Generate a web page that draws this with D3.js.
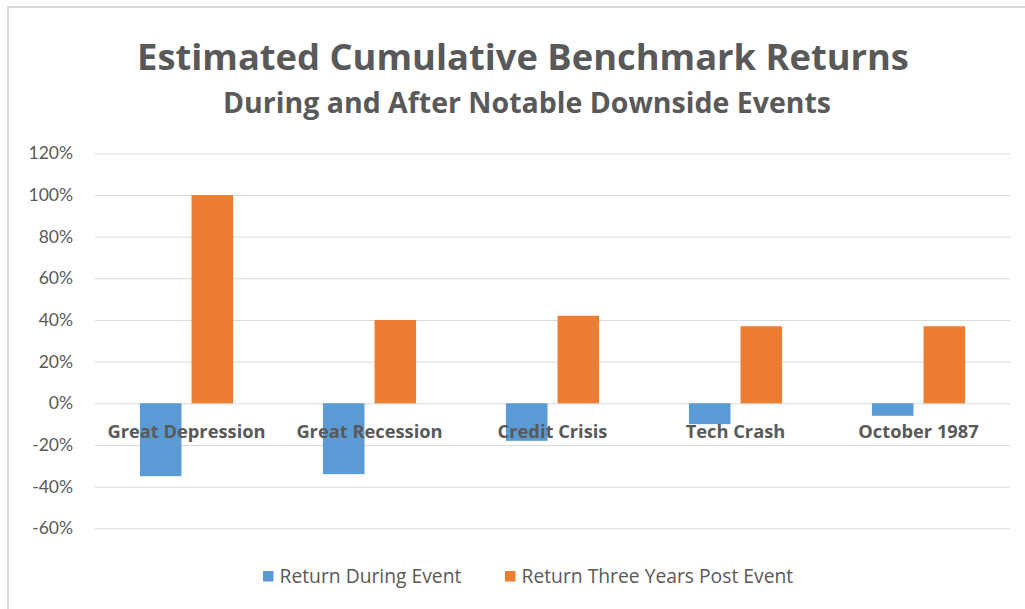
<!DOCTYPE html>
<html>
<head>
<meta charset="utf-8">
<script src="https://cdn.jsdelivr.net/npm/d3@7"></script>
<style>
  html, body { margin: 0; padding: 0; background: #fff; overflow: hidden; }
  svg { display: block; }
  .grid-line { stroke: #d9d9d9; stroke-width: 1; }
  .border-line { stroke: #d9d9d9; stroke-width: 2; }
  .label-axis-tick { fill: #595959; font-family: Lato, 'Open Sans', sans-serif; font-size: 17.5px; }
  .label-category { fill: #595959; font-family: 'Open Sans', sans-serif; font-size: 18.3px; font-weight: bold; }
  .legend-text { fill: #595959; font-family: 'Open Sans', sans-serif; font-size: 19.3px; }
  .title { fill: #595959; font-family: 'Open Sans', sans-serif; font-weight: bold; }
</style>
</head>
<body>
<div id="chart"></div>
<script>
// data
const categories = ['Great Depression', 'Great Recession', 'Credit Crisis', 'Tech Crash', 'October 1987'];
const returnDuring = [-35, -34, -18, -10, -6];
const returnPost = [100, 40, 42, 37, 37];
const seriesNames = ['Return During Event', 'Return Three Years Post Event'];
const yTicks = [-60, -40, -20, 0, 20, 40, 60, 80, 100, 120];

const colors = ['#5B9BD5', '#ED7D31'];

const width = 1025;
const height = 609;
const marginLeft = 95;
const marginRight = 15;
const marginTop = 153.3;
const marginBottom = 80.7;
const innerWidth = width - marginLeft - marginRight;
const innerHeight = height - marginTop - marginBottom;

const svg = d3
  .select('#chart')
  .append('svg')
  .attr('width', width)
  .attr('height', height);

// outer chart border (only top and left show in the shot)
svg.append('line')
  .attr('class', 'border-line')
  .attr('x1', 7).attr('y1', 7)
  .attr('x2', width).attr('y2', 7);
svg.append('line')
  .attr('class', 'border-line')
  .attr('x1', 8).attr('y1', 7)
  .attr('x2', 8).attr('y2', height);

// titles
svg.append('text')
  .attr('class', 'title')
  .attr('x', 523)
  .attr('y', 57)
  .attr('dy', '0.35em')
  .attr('text-anchor', 'middle')
  .style('font-size', '36.3px')
  .text('Estimated Cumulative Benchmark Returns');

svg.append('text')
  .attr('class', 'title')
  .attr('x', 527)
  .attr('y', 103)
  .attr('dy', '0.35em')
  .attr('text-anchor', 'middle')
  .style('font-size', '28.5px')
  .text('During and After Notable Downside Events');

const chart = svg.append('g')
  .attr('transform', 'translate(' + marginLeft + ',' + marginTop + ')');

const x = d3.scaleBand()
  .domain(categories)
  .range([0, innerWidth])
  .padding(0);

const y = d3.scaleLinear()
  .domain([-60, 120])
  .range([innerHeight, 0]);

// bars within each category
const bandW = x.bandwidth();
const barW = bandW * 0.227;
const barGap = bandW * 0.055;
const groupW = barW * 2 + barGap;
const x1 = d3.scaleOrdinal()
  .domain([0, 1])
  .range([(bandW - groupW) / 2, (bandW - groupW) / 2 + barW + barGap]);

// gridlines
chart.append('g')
  .attr('class', 'grid')
  .call(
    d3.axisLeft(y)
      .tickValues(yTicks)
      .tickSize(-innerWidth)
      .tickFormat(() => '')
  )
  .call((g) => g.select('.domain').remove())
  .call((g) => g.selectAll('line').attr('class', 'grid-line'));

// y labels
chart.append('g')
  .selectAll('text')
  .data(yTicks)
  .enter()
  .append('text')
  .attr('class', 'label-axis-tick')
  .attr('x', -22)
  .attr('y', (d) => y(d))
  .attr('dy', '0.35em')
  .attr('text-anchor', 'end')
  .text((d) => d + '%');

// bars
const series = [returnDuring, returnPost];
series.forEach((values, si) => {
  chart.append('g')
    .selectAll('rect')
    .data(values)
    .enter()
    .append('rect')
    .attr('x', (d, i) => x(categories[i]) + x1(si))
    .attr('y', (d) => y(Math.max(0, d)))
    .attr('width', barW)
    .attr('height', (d) => Math.abs(y(d) - y(0)))
    .attr('fill', colors[si]);
});

// category labels, drawn over bars
chart.append('g')
  .selectAll('text')
  .data(categories)
  .enter()
  .append('text')
  .attr('class', 'label-category')
  .attr('x', (d) => x(d) + bandW / 2)
  .attr('y', y(0) + 28.5)
  .attr('dy', '0.35em')
  .attr('text-anchor', 'middle')
  .text((d) => d);

// legend
const legendX = [263, 505];
const legend = svg.append('g');
seriesNames.forEach((name, i) => {
  legend.append('rect')
    .attr('x', legendX[i])
    .attr('y', 571)
    .attr('width', 10.5)
    .attr('height', 10.5)
    .attr('fill', colors[i]);
  legend.append('text')
    .attr('class', 'legend-text')
    .attr('x', legendX[i] + 16.5)
    .attr('y', 576)
    .attr('dy', '0.35em')
    .text(name);
});
</script>
</body>
</html>
